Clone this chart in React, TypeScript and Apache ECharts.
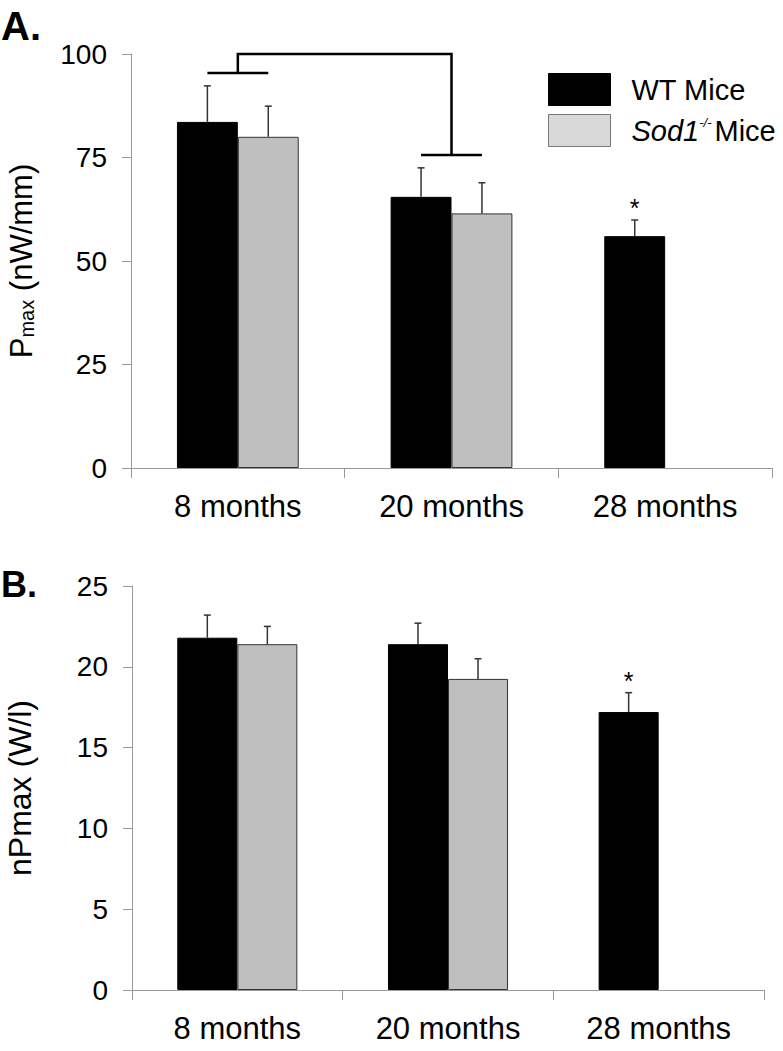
import React, { useEffect, useRef } from 'react';
import * as echarts from 'echarts';

const categories = ['8 months', '20 months', '28 months'];

// Panel A: Pmax (nW/mm)
const wtPmax = [83.6, 65.5, 56.0];
const wtPmaxSem = [8.7, 7.0, 3.9];
const sodPmax: (number | null)[] = [80.0, 61.5, null];
const sodPmaxSem: (number | null)[] = [7.4, 7.4, null];

// Panel B: nPmax (W/l)
const wtNPmax = [21.8, 21.4, 17.2];
const wtNPmaxSem = [1.4, 1.3, 1.2];
const sodNPmax: (number | null)[] = [21.4, 19.25, null];
const sodNPmaxSem: (number | null)[] = [1.1, 1.25, null];

const wtSignificant = [false, false, true];

// significance bracket in panel A: from category 0 to category 1
const bracketCats = [0, 1];
const bracketLevels = [95.4, 100, 75.6];

const FONT = 'Liberation Sans, Arial, Helvetica, sans-serif';
const BAR_FRAC = 0.285;
const CAP = 3.5;
const AXIS_COLOR = '#999';

function errData(
  means: (number | null)[],
  sems: (number | null)[],
  sign: number,
  sig: boolean[] | null
) {
  const out: number[][] = [];
  means.forEach((m, i) => {
    if (m == null || sems[i] == null) return;
    out.push([i, m, m + (sems[i] as number), sign, sig && sig[i] ? 1 : 0]);
  });
  return out;
}

const errRender = (params: any, api: any) => {
  const cat = api.value(0);
  const mean = api.value(1);
  const top = api.value(2);
  const sign = api.value(3);
  const sig = api.value(4);
  const base = api.coord([cat, mean]);
  const tip = api.coord([cat, top]);
  const bw = api.size([1, 0])[0] * BAR_FRAC;
  const x = base[0] + (sign * bw) / 2;
  const children: any[] = [
    { type: 'line', shape: { x1: x, y1: base[1], x2: x, y2: tip[1] }, style: { stroke: '#333', lineWidth: 1.5 } },
    { type: 'line', shape: { x1: x - CAP, y1: tip[1], x2: x + CAP, y2: tip[1] }, style: { stroke: '#333', lineWidth: 1.5 } },
  ];
  if (sig) {
    children.push({
      type: 'text',
      x,
      y: tip[1] - 12,
      style: { text: '*', fontSize: 25, fill: '#000', align: 'center', verticalAlign: 'middle', fontFamily: FONT },
    });
  }
  return { type: 'group', children };
};

const bracketRender = (params: any, api: any) => {
  const c0 = api.coord([bracketCats[0], bracketLevels[0]]);
  const t = api.coord([bracketCats[0], bracketLevels[1]]);
  const c1 = api.coord([bracketCats[1], bracketLevels[2]]);
  const bw = api.size([1, 0])[0] * BAR_FRAC;
  const st = { stroke: '#000', lineWidth: 2.5, fill: null };
  return {
    type: 'group',
    children: [
      { type: 'line', shape: { x1: c0[0] - bw / 2, y1: c0[1], x2: c0[0] + bw / 2, y2: c0[1] }, style: st },
      {
        type: 'polyline',
        shape: { points: [[c0[0], c0[1]], [c0[0], t[1]], [c1[0], t[1]], [c1[0], c1[1]]] },
        style: st,
      },
      { type: 'line', shape: { x1: c1[0] - bw / 2, y1: c1[1], x2: c1[0] + bw / 2, y2: c1[1] }, style: st },
    ],
  };
};

function catAxis(gridIndex: number) {
  return {
    type: 'category',
    gridIndex,
    data: categories,
    axisLine: { show: true, lineStyle: { color: AXIS_COLOR, width: 1 } },
    axisTick: { show: true, length: 10, lineStyle: { color: AXIS_COLOR } },
    axisLabel: { color: '#000', fontSize: 31, fontFamily: FONT, margin: 23 },
    splitLine: { show: false },
  };
}

function valAxis(gridIndex: number, max: number, interval: number) {
  return {
    type: 'value',
    gridIndex,
    min: 0,
    max,
    interval,
    axisLine: { show: true, lineStyle: { color: AXIS_COLOR, width: 1 } },
    axisTick: { show: true, length: 9, lineStyle: { color: AXIS_COLOR } },
    axisLabel: { color: '#000', fontSize: 28, fontFamily: FONT, margin: 24 },
    splitLine: { show: false },
  };
}

const WT_NAME = 'WT Mice';
const SOD_NAME = 'Sod1-/- Mice';

function barSeries(name: string, data: (number | null)[], idx: number, color: string, border: string) {
  return {
    type: 'bar',
    name,
    xAxisIndex: idx,
    yAxisIndex: idx,
    data: data.map((v) => (v == null ? '-' : v)),
    barWidth: BAR_FRAC * 100 + '%',
    barGap: '0%',
    itemStyle: { color, borderColor: border, borderWidth: 1 },
  };
}

export default function App() {
  const ref = useRef<HTMLDivElement>(null);
  useEffect(() => {
    if (!ref.current) return;
    const chart = echarts.init(ref.current, null, { renderer: 'svg' });
    const option: any = {
      animation: false,
      backgroundColor: '#fff',
      textStyle: { fontFamily: FONT },
      grid: [
        { left: 131, top: 54, width: 641, height: 414 },
        { left: 132, top: 586, width: 632, height: 404 },
      ],
      xAxis: [catAxis(0), catAxis(1)],
      yAxis: [valAxis(0, 100, 25), valAxis(1, 25, 5)],
      legend: {
        orient: 'vertical',
        left: 548,
        top: 73,
        padding: 0,
        itemWidth: 62,
        itemHeight: 32,
        itemGap: 8,
        icon: 'rect',
        selectedMode: false,
        data: [
          { name: WT_NAME, itemStyle: { color: '#000', borderColor: '#000', borderWidth: 1 } },
          { name: SOD_NAME, itemStyle: { color: '#d9d9d9', borderColor: '#777', borderWidth: 1 } },
        ],
        formatter: (name: string) =>
          name === WT_NAME ? '{g|}{n|WT Mice}' : '{g|}{i|Sod1}{s|-/-}{h|}{n|Mice}',
        textStyle: {
          color: '#000',
          fontFamily: FONT,
          fontSize: 29,
          rich: {
            g: { width: 16 },
            h: { width: 3 },
            n: { fontSize: 29, fontFamily: FONT, color: '#000' },
            i: { fontSize: 29, fontFamily: FONT, fontStyle: 'italic', color: '#000' },
            s: { fontSize: 13, fontFamily: FONT, fontStyle: 'italic', verticalAlign: 'top', color: '#000' },
          },
        },
      },
      graphic: [
        { type: 'text', left: 1, top: 6, style: { text: 'A.', fontSize: 40, fontWeight: 'bold', fontFamily: FONT, fill: '#000' } },
        { type: 'text', left: 1, top: 566, style: { text: 'B.', fontSize: 36, fontWeight: 'bold', fontFamily: FONT, fill: '#000' } },
        {
          type: 'text',
          x: 21,
          y: 261,
          rotation: Math.PI / 2,
          style: {
            text: '{a|P}{b|max}{a| (nW/mm)}',
            align: 'center',
            verticalAlign: 'middle',
            fontSize: 31,
            fontFamily: FONT,
            fill: '#000',
            rich: {
              a: { fontSize: 31, fontFamily: FONT, fill: '#000', color: '#000' },
              b: { fontSize: 20, fontFamily: FONT, fill: '#000', color: '#000', verticalAlign: 'bottom' },
            },
          },
        },
        {
          type: 'text',
          x: 20,
          y: 788,
          rotation: Math.PI / 2,
          style: {
            text: 'nPmax (W/l)',
            align: 'center',
            verticalAlign: 'middle',
            fontSize: 32,
            fontFamily: FONT,
            fill: '#000',
          },
        },
      ],
      series: [
        barSeries(WT_NAME, wtPmax, 0, '#000', '#000'),
        barSeries(SOD_NAME, sodPmax, 0, '#bfbfbf', '#333'),
        {
          type: 'custom',
          name: 'errA',
          xAxisIndex: 0,
          yAxisIndex: 0,
          clip: false,
          renderItem: errRender,
          data: [...errData(wtPmax, wtPmaxSem, -1, wtSignificant), ...errData(sodPmax, sodPmaxSem, 1, null)],
          z: 5,
        },
        {
          type: 'custom',
          name: 'bracketA',
          xAxisIndex: 0,
          yAxisIndex: 0,
          clip: false,
          renderItem: bracketRender,
          data: [[bracketCats[0], bracketLevels[1]]],
          z: 5,
        },
        barSeries(WT_NAME, wtNPmax, 1, '#000', '#000'),
        barSeries(SOD_NAME, sodNPmax, 1, '#bfbfbf', '#333'),
        {
          type: 'custom',
          name: 'errB',
          xAxisIndex: 1,
          yAxisIndex: 1,
          clip: false,
          renderItem: errRender,
          data: [...errData(wtNPmax, wtNPmaxSem, -1, wtSignificant), ...errData(sodNPmax, sodNPmaxSem, 1, null)],
          z: 5,
        },
      ],
    };
    chart.setOption(option);
    return () => chart.dispose();
  }, []);
  return <div ref={ref} style={{ position: 'absolute', left: 0, top: 0, width: 783, height: 1051 }} />;
}
